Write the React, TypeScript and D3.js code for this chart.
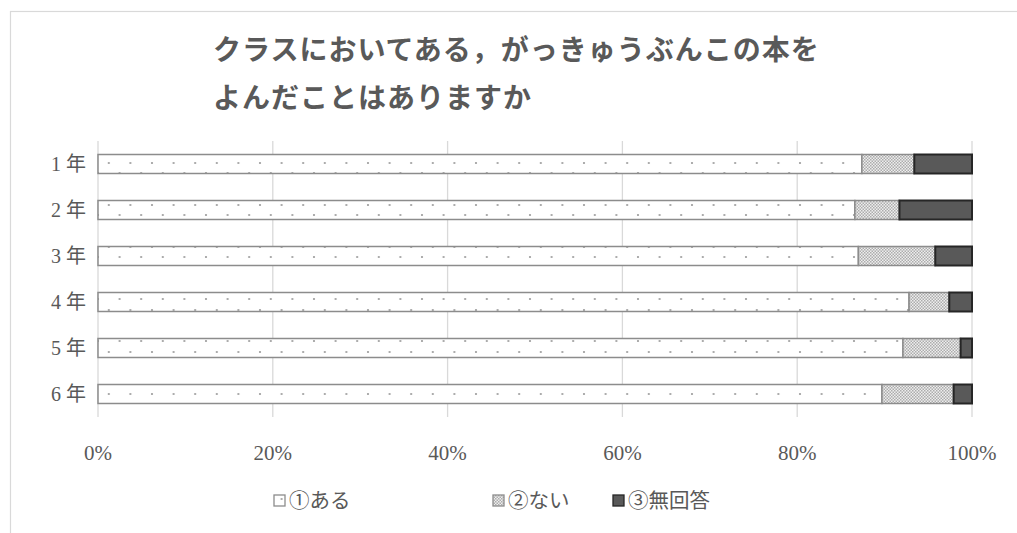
import React from "react";
import * as d3 from "d3";

const categories = ["1年", "2年", "3年", "4年", "5年", "6年"];
const seriesNames = ["①ある", "②ない", "③無回答"];
const aru = [87.4, 86.6, 87.0, 92.8, 92.1, 89.7];
const nai = [6.0, 5.1, 8.8, 4.6, 6.6, 8.2];
const mukaitou = [6.6, 8.3, 4.2, 2.6, 1.3, 2.1];
const xTicks = [0, 20, 40, 60, 80, 100];
const titleLines = ["クラスにおいてある，がっきゅうぶんこの本を", "よんだことはありますか"];

const W = 1017;
const H = 533;
const serif = "'Liberation Serif', 'DejaVu Serif', 'Noto Sans CJK JP', serif";

export default function App() {
  const x = d3.scaleLinear().domain([0, 100]).range([98, 972]);
  const y = d3.scaleBand().domain(categories).range([141, 417]).paddingInner(0.587).paddingOuter(0.2935);

  const series = [aru, nai, mukaitou];
  const rows = categories.map((c, i) => ({ cat: c, vals: series.map((s) => s[i]) }));
  const stack = d3.stack<any>().keys(["0", "1", "2"]).value((d: any, k: string) => d.vals[+k]);
  const stacked = stack(rows as any);

  const fills = ["url(#patAru)", "url(#patNai)", "#595959"];
  const strokes = ["#8c8c8c", "#8c8c8c", "#262626"];
  const strokeW = [1.5, 1.5, 2];

  const legendX = [274, 493, 613];

  return (
    <svg width={W} height={H} style={{ position: "absolute", left: 0, top: 0, background: "#fff" }}>
      <defs>
        <pattern id="patAru" patternUnits="userSpaceOnUse" width={21.6} height={21} x={98} y={152}>
          <rect width={21.6} height={21} fill="#fff" />
          <circle cx={10.8} cy={11} r={1.1} fill="#9a9a9a" />
          <circle cx={0} cy={21} r={1.1} fill="#9a9a9a" />
          <circle cx={21.6} cy={21} r={1.1} fill="#9a9a9a" />
          <circle cx={0} cy={0} r={1.1} fill="#9a9a9a" />
          <circle cx={21.6} cy={0} r={1.1} fill="#9a9a9a" />
        </pattern>
        <pattern id="patNai" patternUnits="userSpaceOnUse" width={3} height={3}>
          <rect width={3} height={3} fill="#eeeeee" />
          <rect width={1.5} height={1.5} fill="#acacac" />
          <rect x={1.5} y={1.5} width={1.5} height={1.5} fill="#acacac" />
        </pattern>
      </defs>
      <rect x={10.5} y={11.5} width={1030} height={540} fill="#fff" stroke="#d9d9d9" strokeWidth={1.2} />

      {titleLines.map((t, i) => (
        <text
          key={i}
          x={213}
          y={60 + i * 47.5}
          fontFamily="'Noto Sans CJK JP', sans-serif"
          fontWeight="bold"
          fontSize={28}
          letterSpacing={1}
          fill="#595959"
        >
          {t}
        </text>
      ))}

      {xTicks.map((t) => (
        <line key={t} x1={x(t)} x2={x(t)} y1={141} y2={417} stroke="#d9d9d9" strokeWidth={1.3} />
      ))}

      {stacked.map((layer, si) =>
        layer.map((d, i) => (
          <rect
            key={si + "-" + i}
            x={x(d[0])}
            y={y(categories[i])!}
            width={x(d[1]) - x(d[0])}
            height={y.bandwidth()}
            fill={fills[si]}
            stroke={strokes[si]}
            strokeWidth={strokeW[si]}
          />
        ))
      )}

      {categories.map((c) => (
        <text
          key={c}
          x={86}
          y={y(c)! + y.bandwidth() / 2}
          dy="0.35em"
          textAnchor="end"
          fontFamily={serif}
          fontSize={20}
          fill="#595959"
        >
          <tspan>{c.slice(0, 1)}</tspan>
          <tspan dx={5}>{c.slice(1)}</tspan>
        </text>
      ))}

      {xTicks.map((t) => (
        <text
          key={t}
          x={x(t)}
          y={460}
          textAnchor="middle"
          fontFamily={serif}
          fontSize={21}
          fill="#595959"
        >
          {t + "%"}
        </text>
      ))}

      {seriesNames.map((n, i) => (
        <g key={n}>
          <rect
            x={legendX[i]}
            y={495}
            width={11}
            height={11}
            fill={fills[i]}
            stroke={strokes[i]}
            strokeWidth={1.3}
          />
          <text x={legendX[i] + 15} y={508} fontFamily={serif} fontSize={20.5} fill="#595959">
            {n}
          </text>
        </g>
      ))}
    </svg>
  );
}
